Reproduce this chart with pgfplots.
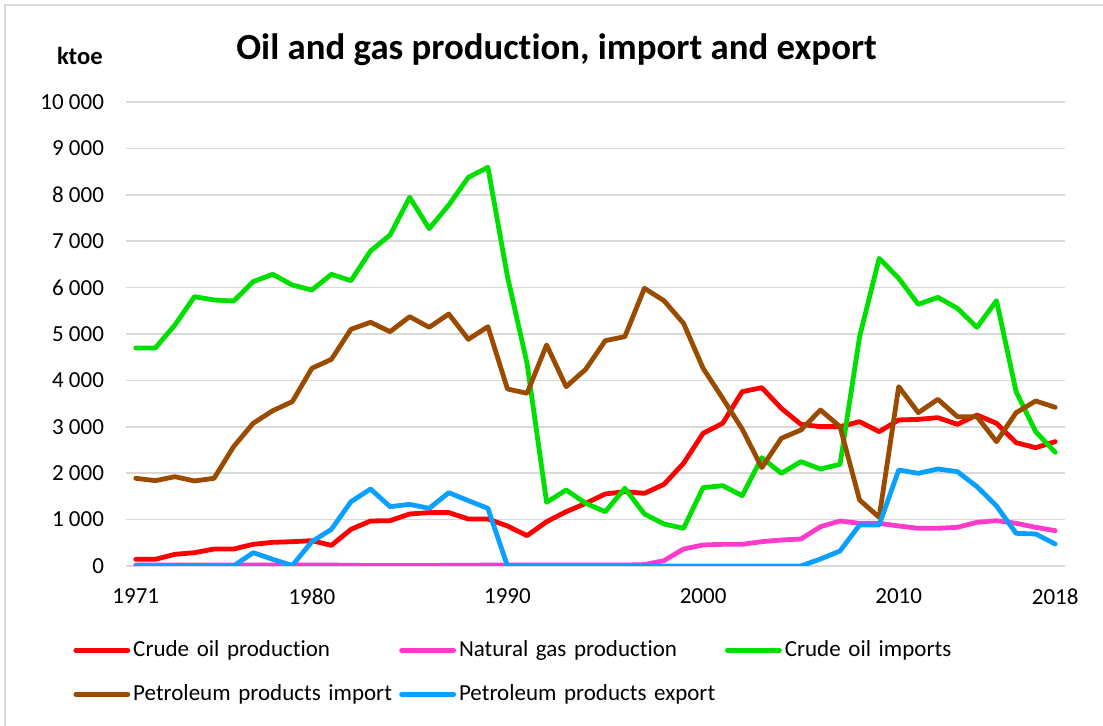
\documentclass[border=0pt]{standalone}
\usepackage{fontspec}
\setmainfont{Carlito}[Ligatures=NoCommon]
\usepackage{pgfplots}
\usepackage{pgfplotstable}
\pgfplotsset{compat=1.18}

\definecolor{cop}{HTML}{FF0000}
\definecolor{ngp}{HTML}{FF3BCB}
\definecolor{coi}{HTML}{00E000}
\definecolor{ppi}{HTML}{9A4B00}
\definecolor{ppe}{HTML}{0AA0FF}
\definecolor{gridgray}{HTML}{D9D9D9}

% ktoe
\pgfplotstableread{
year cop ngp coi ppi ppe
1971 144 20 4700 1890 0
1972 144 20 4700 1839 0
1973 251 20 5194 1925 0
1974 287 20 5804 1832 10
1975 366 20 5733 1890 0
1976 366 20 5711 2572 0
1977 467 20 6128 3075 287
1978 510 20 6286 3347 144
1979 524 20 6056 3541 10
1980 546 20 5948 4260 524
1981 445 20 6286 4454 790
1982 790 15 6149 5101 1386
1983 970 10 6789 5252 1659
1984 977 10 7134 5050 1278
1985 1121 10 7945 5373 1329
1986 1150 10 7270 5144 1243
1987 1150 15 7780 5431 1580
1988 1013 15 8376 4885 1408
1989 1013 20 8592 5158 1243
1990 862 20 6236 3815 0
1991 654 20 4368 3722 0
1992 955 20 1372 4763 0
1993 1170 20 1638 3865 0
1994 1351 20 1351 4239 0
1995 1552 20 1170 4856 0
1996 1602 20 1674 4943 0
1997 1566 30 1121 5984 0
1998 1760 115 905 5718 0
1999 2213 366 812 5230 0
2000 2860 453 1688 4260 0
2001 3075 467 1731 3614 0
2002 3757 467 1516 2950 0
2003 3843 524 2335 2120 0
2004 3398 560 1997 2752 0
2005 3053 582 2249 2931 0
2006 3003 847 2091 3362 151
2007 3003 970 2191 3003 323
2008 3110 920 4943 1422 884
2009 2895 920 6631 1049 884
2010 3147 862 6200 3865 2069
2011 3160 812 5639 3304 1997
2012 3197 812 5790 3592 2091
2013 3053 834 5553 3218 2033
2014 3254 941 5144 3218 1710
2015 3075 977 5718 2680 1293
2016 2658 920 3757 3304 704
2017 2550 834 2895 3556 690
2018 2680 761 2450 3420 474
}\datatable

\begin{document}
\begin{tikzpicture}
\useasboundingbox (0,0) rectangle (551.5pt,363pt);
\draw[gridgray, line width=0.6pt] (2.5pt,0) -- (2.5pt,360.5pt) -- (551.5pt,360.5pt);
\node[font=\bfseries\fontsize{18.4}{22}\selectfont, anchor=base, inner sep=0pt] at (278.25pt,333pt) {Oil and gas production, import and export};
\node[font=\bfseries\fontsize{12.3}{14}\selectfont, anchor=base east, inner sep=0pt] at (51.5pt,330.5pt) {ktoe};
\begin{axis}[
    at={(63pt,80pt)}, anchor=south west,
    scale only axis, width=469.5pt, height=232pt,
    xmin=1970.5, xmax=2018.5, ymin=0, ymax=10000,
    scaled y ticks=false,
    axis line style={draw=none},
    major tick length=0pt,
    ymajorgrids,
    grid style={gridgray, line width=0.75pt},
    xtick={1971,1980,1990,2000,2010,2018},
    xticklabels={1971,1980,1990,2000,2010,2018},
    ytick={0,1000,...,10000},
    yticklabels={0,1 000,2 000,3 000,4 000,5 000,6 000,7 000,8 000,9 000,10 000},
    ticklabel style={font=\fontsize{11.5}{13}\selectfont},
    yticklabel style={xshift=-7.5pt},
    xticklabel style={yshift=-8pt},
    every axis plot/.append style={line width=2.4pt, line join=round, line cap=round, no markers},
    legend columns=3,
    legend image code/.code={\draw[#1] (0pt,0pt) -- (26pt,0pt);},
    legend style={at={(-0.0564,-0.1487)}, anchor=north west, draw=none, fill=none,
        inner sep=0pt, row sep=7pt, column sep=0pt,
        font=\fontsize{11.5}{13}\selectfont,
        nodes={text width=131.5pt, align=left, inner xsep=1.5pt, inner ysep=2pt, text height=8.5pt, text depth=2.5pt}},
]
\addplot[cop] table[x=year, y=cop] {\datatable};
\addplot[ngp] table[x=year, y=ngp] {\datatable};
\addplot[coi] table[x=year, y=coi] {\datatable};
\addplot[ppi] table[x=year, y=ppi] {\datatable};
\addplot[ppe] table[x=year, y=ppe] {\datatable};
\legend{Crude oil production, Natural gas production, Crude oil imports, Petroleum products import, Petroleum products export}
\end{axis}
\end{tikzpicture}
\end{document}
